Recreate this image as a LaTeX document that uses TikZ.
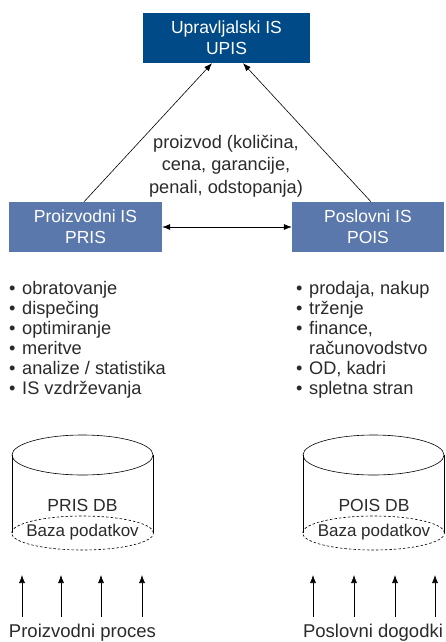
\documentclass[tikz,border=0pt]{standalone}
\usepackage{fontspec}
\setmainfont{Liberation Sans}
\usetikzlibrary{arrows.meta,calc}
\definecolor{upisblue}{HTML}{004A87}
\definecolor{isblue}{HTML}{5A78AC}
\definecolor{txt}{HTML}{2A2A2A}
\begin{document}
\begin{tikzpicture}[x=1pt,y=-1pt,
  font=\fontsize{17.5}{21}\selectfont, text=txt,
  upbox/.style={fill=upisblue, text=white, align=center, inner sep=0pt, minimum height=50pt},
  isbox/.style={fill=isblue, text=white, align=center, inner sep=0pt, minimum height=50pt},
  conn/.style={draw=black, line width=0.6pt, -{Latex[length=8pt,width=6pt]}},
  conntwo/.style={draw=black, line width=0.6pt, {Latex[length=8pt,width=6pt]}-{Latex[length=8pt,width=6pt]}},
  cyl/.style={draw=black, line width=0.6pt},
  dashell/.style={draw=black, line width=0.6pt, dash pattern=on 2.5pt off 2pt},
  lbl/.style={inner sep=0pt, text=txt}]
\useasboundingbox (0,0) rectangle (445,642);

% top boxes
\node[upbox, minimum width=167pt] (upis) at (226.5,38) {Upravljalski IS\\UPIS};
\node[isbox, minimum width=153pt] (pris) at (85.5,227) {Proizvodni IS\\PRIS};
\node[isbox, minimum width=152pt] (pois) at (368,227) {Poslovni IS\\POIS};

\draw[conn] ([xshift=-1.5pt]pris.north) -- ([xshift=-14.5pt]upis.south);
\draw[conn] ([xshift=3pt]pois.north) -- ([xshift=16.5pt]upis.south);
\draw[conntwo] (pris.east) -- (pois.west);

\node[lbl, align=center, font=\fontsize{18.2}{22.5}\selectfont] (flow) at (226,166)
  {proizvod (količina,\\cena, garancije,\\penali, odstopanja)};

% lists
\node[lbl, anchor=north west, font=\fontsize{18.2}{20}\selectfont] (plist) at (9,280.5)
  {\begin{tabular}[t]{@{}p{13pt}@{}l@{}}
  • & obratovanje\\
  • & dispečing\\
  • & optimiranje\\
  • & meritve\\
  • & analize / statistika\\
  • & IS vzdrževanja
  \end{tabular}};
\node[lbl, anchor=north west, font=\fontsize{18.2}{20}\selectfont] (olist) at (296,280.5)
  {\begin{tabular}[t]{@{}p{13pt}@{}l@{}}
  • & prodaja, nakup\\
  • & trženje\\
  • & finance,\\
    & računovodstvo\\
  • & OD, kadri\\
  • & spletna stran
  \end{tabular}};

% cylinders
\draw[cyl] (82.5,455) ellipse [x radius=70.5pt, y radius=20pt];
\draw[cyl] (12,455) -- (12,533);
\draw[cyl] (153,455) -- (153,533);
\draw[dashell] (82.5,533) ellipse [x radius=71pt, y radius=17pt];
\node[lbl] (prisdb) at (82.5,505) {PRIS DB};
\node[lbl, font=\fontsize{17}{20}\selectfont] (prisbaza) at (82.5,532) {Baza podatkov};

\draw[cyl] (373.5,455) ellipse [x radius=70.5pt, y radius=20pt];
\draw[cyl] (303,455) -- (303,533);
\draw[cyl] (444,455) -- (444,533);
\draw[dashell] (373.5,533) ellipse [x radius=71pt, y radius=17pt];
\node[lbl] (poisdb) at (374,505) {POIS DB};
\node[lbl, font=\fontsize{17}{20}\selectfont] (poisbaza) at (374,532) {Baza podatkov};

% input arrows
\foreach \i/\x in {1/22,2/61,3/101,4/142,5/313,6/354,7/395,8/435}{
  \coordinate (b\i) at (\x,617);
  \coordinate (t\i) at (\x,575);
  \draw[conn] (b\i) -- (t\i);
}

\node[lbl, anchor=base, font=\fontsize{18.5}{21}\selectfont] (proc) at (82.5,637) {Proizvodni proces};
\node[lbl, anchor=base, font=\fontsize{18.5}{21}\selectfont] (dog) at (373,637) {Poslovni dogodki};
\end{tikzpicture}
\end{document}
